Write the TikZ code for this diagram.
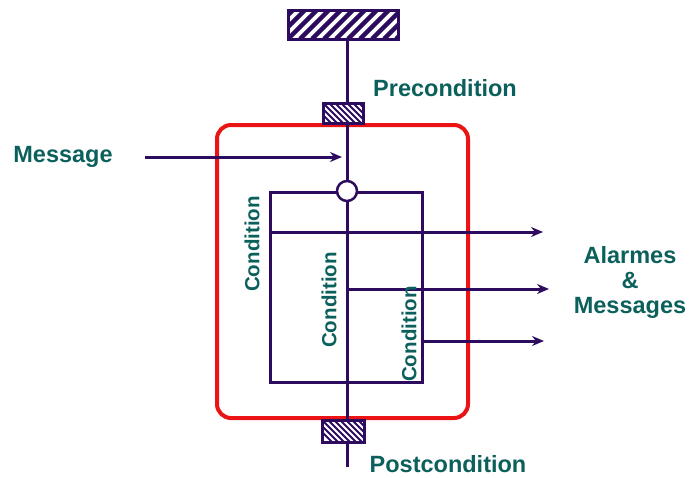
\documentclass[tikz,border=0pt]{standalone}
\usepackage{fontspec}
\setmainfont{Liberation Sans}
\usetikzlibrary{arrows.meta}
\definecolor{purp}{RGB}{45,12,95}
\definecolor{teal2}{RGB}{12,96,92}
\definecolor{redb}{RGB}{235,20,20}
\tikzset{
  lbl/.style={text=teal2, font=\fontsize{23.5}{25}\selectfont\bfseries, inner sep=0pt},
  condlbl/.style={text=teal2, font=\fontsize{20.5}{22}\selectfont\bfseries, inner sep=0pt, rotate=90},
  wire/.style={draw=purp, line width=3pt},
  arr/.style={wire, -{Stealth[length=12pt,width=10pt]}},
  topbar/.style={draw=purp, line width=3pt, fill=white, minimum width=110pt, minimum height=29pt, inner sep=0pt,
    path picture={\foreach \i in {-4,...,12}{\draw[purp,line width=4.5pt] ([xshift=\i*12pt]path picture bounding box.south west) -- ++(32pt,32pt);}}},
  smallbar/.style={draw=purp, line width=3pt, fill=white, minimum width=40pt, minimum height=20pt, inner sep=0pt,
    path picture={\foreach \i in {-2,...,12}{\draw[purp,line width=1.8pt] ([xshift=\i*6pt]path picture bounding box.north west) -- ++(24pt,-24pt);}}},
}
\begin{document}
\begin{tikzpicture}[x=1pt,y=-1pt]
\useasboundingbox (0,0) rectangle (690,477);
\coordinate (sp) at (347,0);
% red box
\node[draw=redb, line width=4pt, rounded corners=14pt, minimum width=251pt, minimum height=293pt, inner sep=0pt] (box) at (342.5,271.5) {};
% inner rectangle
\node[draw=purp, line width=3pt, minimum width=152pt, minimum height=190pt, inner sep=0pt] (inner) at (346,287) {};
% bars
\node[topbar] (top) at (343,24.5) {};
\node[smallbar] (pre) at (343,113) {};
\node[smallbar, minimum width=42pt, minimum height=22pt] (post) at (343,431) {};
% junction
\node[draw=purp, line width=2.5pt, fill=white, circle, minimum size=20pt, inner sep=0pt] (jn) at (347,191) {};
% spine
\coordinate (end) at (347,467);
\draw[wire] (top.south -| sp) -- (pre.north -| sp);
\draw[wire] (pre.south -| sp) -- (jn.north);
\draw[wire] (jn.south) -- (post.north -| sp);
\draw[wire] (post.south -| sp) -- (end);
% message arrow
\node[lbl] (msg) at (63,157) {Message};
\coordinate (msgstart) at (145,157);
\coordinate (msgend) at (342,157);
\draw[arr] (msgstart) -- (msgend);
% outputs
\coordinate (out1) at (543,232);
\coordinate (out2) at (549,289);
\coordinate (out3) at (544,341);
\draw[arr] (inner.west |- out1) -- (out1);
\draw[arr] (sp |- out2) -- (out2);
\draw[arr] (inner.east |- out3) -- (out3);
% labels
\node[lbl] (prelbl) at (445,88) {Precondition};
\node[lbl] (postlbl) at (448,464.5) {Postcondition};
\node[lbl, align=center] (alarm) at (630,282) {Alarmes\\\&\\Messages};
\node[condlbl] (c1) at (252,244) {Condition};
\node[condlbl] (c2) at (329,300) {Condition};
\node[condlbl] (c3) at (409,334) {Condition};
\end{tikzpicture}
\end{document}
